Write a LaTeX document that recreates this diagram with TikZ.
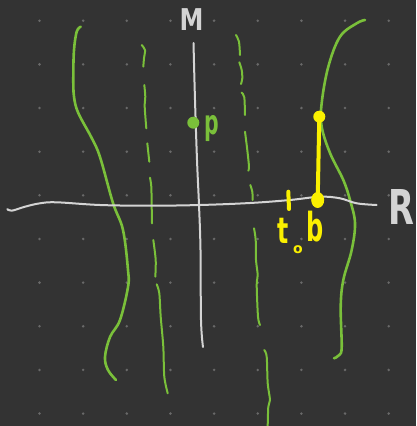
\documentclass[tikz,border=0pt]{standalone}
\usepackage{fontspec}
\setmainfont{DejaVu Sans}
\definecolor{bgc}{RGB}{51,51,51}
\definecolor{dotc}{RGB}{105,105,105}
\definecolor{grn}{RGB}{122,192,58}
\definecolor{ylw}{RGB}{250,240,0}
\definecolor{axc}{RGB}{212,212,212}
\begin{document}
\begin{tikzpicture}[x=1pt,y=-1pt,
  gline/.style={grn,line width=2.6pt,line cap=round,line join=round},
  gdash/.style={grn,line width=2pt,line cap=round,line join=round},
  axis/.style={axc,line width=2pt,line cap=round,line join=round},
  ylab/.style={ylw,inner sep=0pt},
  lab/.style={inner sep=0pt}]
\fill[bgc] (0,0) rectangle (416,426);
\useasboundingbox (0,0) rectangle (416,426);
\foreach \i in {0,...,8}
  \foreach \j in {0,...,9}
    \fill[dotc] (39.5+43.65*\i,20.7+43.65*\j) circle[radius=1.4pt];
% left green curve
\draw[gline] plot[smooth,tension=0.6] coordinates {(80.7,26.7)(76.7,31.7)(74,50)(73.3,76.7)(74,96.7)(78.3,113)(91.7,138)(100,157)(113,203)(123,230)(128,270)(128,287)(120,320)(110,337)(105,357)(108,370)(116,380)};
% right green curve
\draw[gline] plot[smooth,tension=0.6] coordinates {(365,20)(356.7,23.3)(340,36.7)(328.3,66.7)(321.7,103)(321.7,126.7)(330,153)(343.3,180)(350,200)(355,223)(351.7,250)(343.3,280)(340.7,306.7)(341.7,346.7)(339.3,355)(334,358.3)};
% dashed line 1
\draw[gdash] plot[smooth] coordinates {(141.7,45)(145,50)(144,58.3)(143.3,66.7)};
\draw[gdash] plot[smooth] coordinates {(144.3,85)(145.3,96.7)(144.7,106.7)(146.3,128.3)};
\draw[gdash] plot[smooth] coordinates {(147.3,143.3)(149.3,161.7)};
\draw[gdash] plot[smooth] coordinates {(150,177.7)(151.3,186.7)(151.7,206.7)(152,223.3)};
\draw[gdash] plot[smooth] coordinates {(153.3,240)(155.7,260)(155.3,276.7)};
\draw[gdash] plot[smooth] coordinates {(156.7,284.3)(159.3,293.3)(160.7,316.7)(163.3,346.7)(164.3,376.7)(167.7,393.3)};
% dashed line 2
\draw[gdash] plot[smooth] coordinates {(236,35)(239,41.7)(240,55)};
\draw[gdash] plot[smooth] coordinates {(239.3,62.3)(241.7,70)(242.3,78.3)(241,84)};
\draw[gdash] plot[smooth] coordinates {(241.7,92.7)(244.3,97.3)(245,115)};
\draw[gdash] plot[smooth] coordinates {(245,131.7)(247.3,150)(249,166.7)(248.3,170.7)};
\draw[gdash] plot[smooth] coordinates {(250.3,185)(252.3,191.7)(252.7,200)};
\draw[gdash] plot[smooth] coordinates {(254,228.3)(255.7,240)(256,260)(257.7,275)(256.7,285)(258,316.7)(260,325)};
\draw[gdash] plot[smooth] coordinates {(264.3,350)(266.7,356.7)(267.7,383.3)(270,400)(268.3,406.7)(267.7,426)};
% axes
\draw[axis] plot[smooth,tension=0.6] coordinates {(193.5,43)(195,100)(197,160)(199,205)(200.5,250)(201,320)(203,347)};
\draw[axis] plot[smooth,tension=0.6] coordinates {(7.3,209)(11.7,210.7)(25,206.7)(40,203.3)(56.7,202.3)(100,205)(150,205.7)(200,205)(250,203)(290,200)(320,196.7)(340,198.3)(356.7,203.3)(376.7,205)};
\node[lab,axc,font=\bfseries\fontsize{30}{30}\selectfont,xscale=0.8] (M) at (191.5,20) {M};
\node[lab,axc,font=\bfseries\fontsize{48}{48}\selectfont,xscale=0.7] (R) at (401,207) {R};
% point p
\coordinate (P) at (193.3,122.7);
\fill[grn] (P) circle[radius=6pt];
\node[lab,grn,font=\bfseries\fontsize{34}{34}\selectfont,xscale=0.6,anchor=north] (plab) at (212,115) {p};
% yellow
\coordinate (Y1) at (319.3,116.7);
\coordinate (Y2) at (317.7,200);
\draw[ylw,line width=4pt,line cap=round] (Y1) -- (Y2);
\fill[ylw] (Y1) circle[radius=6pt];
\fill[ylw] (Y2) ellipse[x radius=6.5pt,y radius=8pt];
\coordinate (T1) at (288.3,191.7);
\coordinate (T2) at (289,209);
\draw[ylw,line width=4pt,line cap=round] (T1) -- (T2);
\node[ylab,font=\bfseries\fontsize{36}{36}\selectfont,xscale=0.65] (t) at (283,231) {t};
\node[ylab,font=\bfseries\fontsize{14}{14}\selectfont] (o) at (298,250) {o};
\node[ylab,font=\bfseries\fontsize{40}{40}\selectfont,xscale=0.6] (b) at (315,227) {b};
\end{tikzpicture}
\end{document}
